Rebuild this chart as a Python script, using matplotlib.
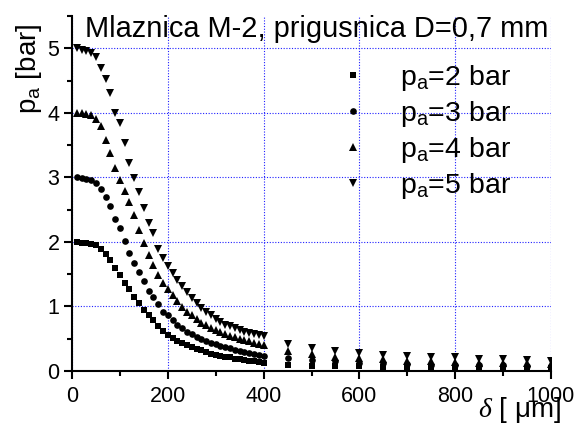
import matplotlib
matplotlib.use("Agg")
import matplotlib.pyplot as plt
from matplotlib.ticker import MultipleLocator

plt.rcParams['font.family'] = 'Liberation Sans'
plt.rcParams['mathtext.fontset'] = 'custom'
plt.rcParams['mathtext.rm'] = 'Liberation Sans'
plt.rcParams['mathtext.it'] = 'Liberation Serif:italic'

# Data
delta = [10, 20, 30, 40, 50, 60, 70, 80, 90, 100,
         110, 120, 130, 140, 150, 160, 170, 180, 190, 200,
         210, 220, 230, 240, 250, 260, 270, 280, 290, 300,
         310, 320, 330, 340, 350, 360, 370, 380, 390, 400,
         450, 500, 550, 600, 650, 700, 750, 800, 850, 900, 950, 1000]

p2 = [2.00, 1.99, 1.98, 1.97, 1.95, 1.89, 1.81, 1.72, 1.60, 1.49,
      1.37, 1.27, 1.15, 1.06, 0.95, 0.87, 0.79, 0.69, 0.62, 0.56,
      0.51, 0.47, 0.43, 0.40, 0.37, 0.34, 0.32, 0.29, 0.27, 0.25,
      0.24, 0.22, 0.21, 0.19, 0.18, 0.17, 0.16, 0.15, 0.14, 0.13,
      0.09, 0.08, 0.07, 0.07, 0.06, 0.06, 0.06, 0.05, 0.05, 0.05, 0.05, 0.05]

p3 = [3.00, 2.99, 2.98, 2.96, 2.91, 2.82, 2.70, 2.55, 2.36, 2.21,
      2.02, 1.83, 1.68, 1.54, 1.39, 1.24, 1.15, 1.04, 0.92, 0.86,
      0.79, 0.72, 0.66, 0.61, 0.57, 0.53, 0.50, 0.47, 0.44, 0.42,
      0.39, 0.37, 0.35, 0.33, 0.31, 0.30, 0.28, 0.27, 0.25, 0.24,
      0.20, 0.17, 0.15, 0.13, 0.12, 0.11, 0.10, 0.10, 0.09, 0.09, 0.08, 0.08]

p4 = [4.00, 3.99, 3.98, 3.97, 3.91, 3.79, 3.58, 3.37, 3.15, 2.96,
      2.79, 2.62, 2.41, 2.18, 1.98, 1.80, 1.65, 1.49, 1.37, 1.27,
      1.17, 1.08, 0.99, 0.92, 0.86, 0.80, 0.75, 0.71, 0.67, 0.63,
      0.60, 0.57, 0.54, 0.52, 0.50, 0.48, 0.46, 0.44, 0.42, 0.41,
      0.31, 0.26, 0.22, 0.20, 0.18, 0.16, 0.15, 0.14, 0.13, 0.12, 0.12, 0.11]

p5 = [5.00, 4.98, 4.96, 4.93, 4.87, 4.69, 4.53, 4.31, 3.99, 3.85,
      3.54, 3.23, 2.99, 2.78, 2.52, 2.30, 2.14, 1.89, 1.75, 1.63,
      1.52, 1.41, 1.31, 1.22, 1.13, 1.05, 0.98, 0.92, 0.86, 0.81,
      0.76, 0.72, 0.69, 0.66, 0.63, 0.61, 0.59, 0.575, 0.56, 0.55,
      0.42, 0.36, 0.31, 0.28, 0.25, 0.23, 0.22, 0.21, 0.19, 0.18, 0.17, 0.16]

labels = [r'$\mathregular{p_a}$=2 bar', r'$\mathregular{p_a}$=3 bar',
          r'$\mathregular{p_a}$=4 bar', r'$\mathregular{p_a}$=5 bar']
markers = ['s', 'o', '^', 'v']
sizes = [4.5, 4.8, 5.6, 5.6]

W, H = 578, 424
fig = plt.figure(figsize=(W / 100, H / 100), dpi=100)
ax = fig.add_axes([72 / W, 1 - 371 / H, (551 - 72) / W, (371 - 16) / H])

for ys, m, ms, lab in zip([p2, p3, p4, p5], markers, sizes, labels):
    ax.plot(delta, ys, linestyle='none', marker=m, ms=ms, color='black',
            markeredgewidth=0, label=lab)

ax.set_xlim(0, 1000)
ax.set_ylim(0, 5.5)
ax.xaxis.set_major_locator(MultipleLocator(200))
ax.xaxis.set_minor_locator(MultipleLocator(100))
ax.yaxis.set_major_locator(MultipleLocator(1))
ax.yaxis.set_minor_locator(MultipleLocator(0.5))

for s in ['top', 'right']:
    ax.spines[s].set_visible(False)
for s in ['left', 'bottom']:
    ax.spines[s].set_linewidth(1.5)

ax.tick_params(which='major', direction='out', length=6, width=1.5, labelsize=15.5)
ax.tick_params(which='minor', direction='out', length=3.5, width=1.5)
ax.tick_params(axis='x', pad=5)
ax.tick_params(axis='y', pad=3)

ax.grid(True, which='major', color='#2020ff', linestyle=(0, (1, 1.5)), linewidth=0.8)
ax.set_axisbelow(True)

leg = ax.legend(loc='upper left', bbox_to_anchor=(338.8 / W, 1 - 63 / H),
                bbox_transform=fig.transFigure, frameon=False, fontsize=20.5,
                handlelength=1.0, handletextpad=1.15, borderpad=0,
                borderaxespad=0, labelspacing=0.21)

fig.text(85 / W, 1 - 37 / H, 'Mlaznica M-2, prigusnica D=0,7 mm',
         fontsize=20.9, va='baseline', ha='left')
fig.text(29 / W, 1 - 69 / H, r'$\mathregular{p_a}$ [bar]', fontsize=20,
         rotation=90, ha='center', va='center')
fig.text(561 / W, 1 - 417 / H, r'$\delta$ [ $\mathregular{\mu}$m]', fontsize=20,
         ha='right', va='baseline')

fig.savefig('out.png', dpi=100)
